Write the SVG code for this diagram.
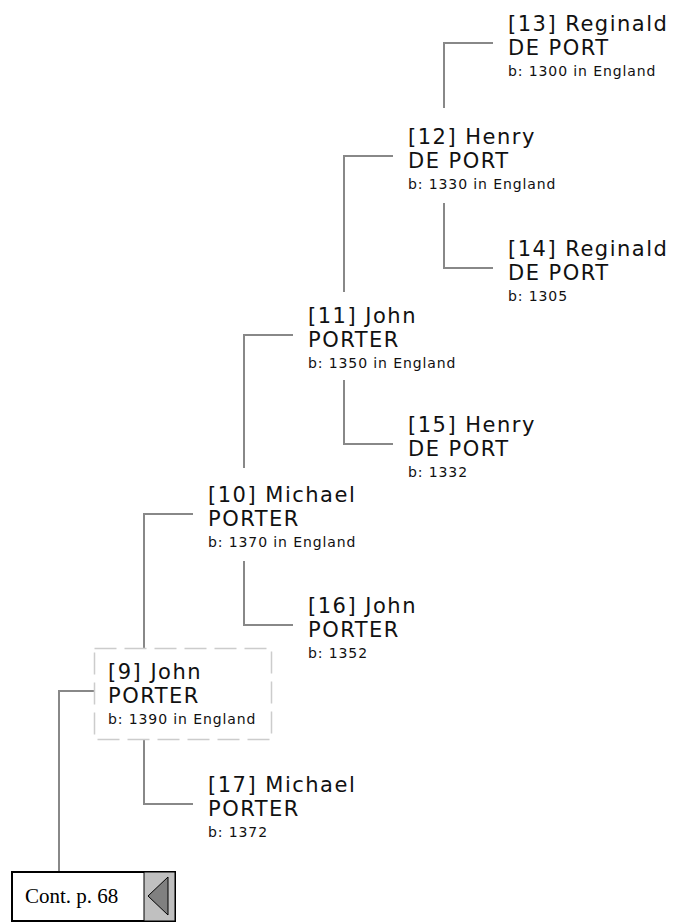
<svg xmlns="http://www.w3.org/2000/svg" width="676" height="922" viewBox="0 0 676 922">
<style>
.n{font-family:"DejaVu Sans",Verdana,sans-serif;font-size:21px;letter-spacing:1.5px;fill:#111}
.s{font-family:"DejaVu Sans",Verdana,sans-serif;font-size:14px;letter-spacing:0.9px;fill:#111}
.c{fill:none;stroke:#888;stroke-width:2}
</style>
<rect width="676" height="922" fill="#fff"/>
<g id="connectors">
<polyline class="c" points="493,43 444,43 444,108"/>
<polyline class="c" points="393,156 344,156 344,292"/>
<polyline class="c" points="444,203 444,268 493,268"/>
<polyline class="c" points="293,335 244,335 244,468"/>
<polyline class="c" points="344,380 344,444 393,444"/>
<polyline class="c" points="193,514 144,514 144,648"/>
<polyline class="c" points="244,561 244,625 293,625"/>
<polyline class="c" points="94,691 59,691 59,871"/>
<polyline class="c" points="144,739 144,804 193,804"/>
</g>
<g id="n13"><text class="n" x="508" y="31">[13] Reginald</text><text class="n" x="508" y="55">DE PORT</text><text class="s" x="508" y="76">b: 1300 in England</text></g>
<g id="n12"><text class="n" x="408" y="144">[12] Henry</text><text class="n" x="408" y="168">DE PORT</text><text class="s" x="408" y="189">b: 1330 in England</text></g>
<g id="n14"><text class="n" x="508" y="256">[14] Reginald</text><text class="n" x="508" y="280">DE PORT</text><text class="s" x="508" y="301">b: 1305</text></g>
<g id="n11"><text class="n" x="308" y="323">[11] John</text><text class="n" x="308" y="347">PORTER</text><text class="s" x="308" y="368">b: 1350 in England</text></g>
<g id="n15"><text class="n" x="408" y="432">[15] Henry</text><text class="n" x="408" y="456">DE PORT</text><text class="s" x="408" y="477">b: 1332</text></g>
<g id="n10"><text class="n" x="208" y="502">[10] Michael</text><text class="n" x="208" y="526">PORTER</text><text class="s" x="208" y="547">b: 1370 in England</text></g>
<g id="n16"><text class="n" x="308" y="613">[16] John</text><text class="n" x="308" y="637">PORTER</text><text class="s" x="308" y="658">b: 1352</text></g>
<g id="n9"><rect x="94.5" y="648.5" width="177" height="91" fill="#fff" stroke="#ccc" stroke-width="1.5" stroke-dasharray="22,8"/><text class="n" x="108" y="679">[9] John</text><text class="n" x="108" y="703">PORTER</text><text class="s" x="108" y="724">b: 1390 in England</text></g>
<g id="n17"><text class="n" x="208" y="792">[17] Michael</text><text class="n" x="208" y="816">PORTER</text><text class="s" x="208" y="837">b: 1372</text></g>
<g id="cont">
<rect x="12" y="872" width="163" height="49" fill="#fff" stroke="#000" stroke-width="2"/>
<rect x="144" y="872" width="31" height="49" fill="#c0c0c0" stroke="#000" stroke-width="1"/>
<polygon points="148,896 168,877 168,915" fill="#808080" stroke="#000" stroke-width="1"/>
<text x="25" y="903" font-family="'Liberation Serif','Times New Roman',serif" font-size="21" fill="#000">Cont. p. 68</text>
</g>
</svg>
